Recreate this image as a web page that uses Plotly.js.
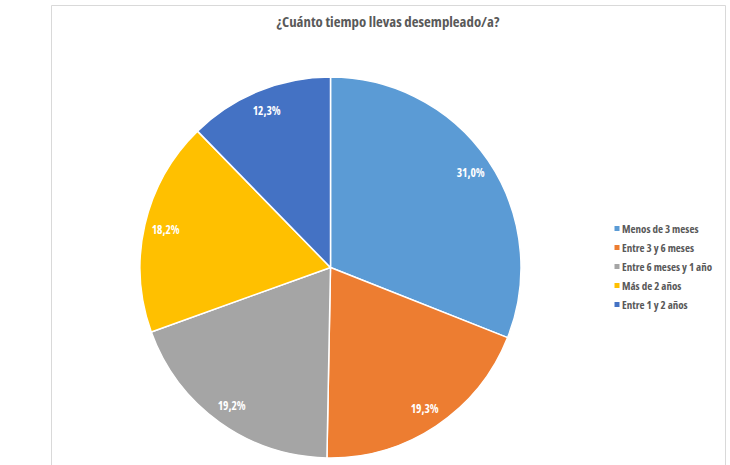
<!DOCTYPE html>
<html>
<head>
<meta charset="utf-8">
<script src="https://cdn.plot.ly/plotly-3.0.1.min.js"></script>
<style>
html,body{margin:0;padding:0;background:#fff;}
#chart{width:730px;height:465px;}
#chart text{font-stretch:75% !important;}
</style>
</head>
<body>
<div id="chart"></div>
<script>
const categories = ["Menos de 3 meses", "Entre 3 y 6 meses", "Entre 6 meses y 1 año", "Más de 2 años", "Entre 1 y 2 años"];
const percentages = [31.0, 19.3, 19.2, 18.2, 12.3];
const sliceColors = ["#5B9BD5", "#ED7D31", "#A5A5A5", "#FFC000", "#4472C4"];
const chartTitle = "¿Cuánto tiempo llevas desempleado/a?";

const FONT = "'Open Sans', Roboto, sans-serif";

const W = 730, H = 465;
const cx = 330.5, cy = 267.5, r = 190.5;
const labelRadius = 0.89 * r;

const trace = {
  type: "pie",
  labels: categories,
  values: percentages,
  sort: false,
  direction: "clockwise",
  rotation: 0,
  marker: { colors: sliceColors, line: { color: "#ffffff", width: 1.5 } },
  textinfo: "none",
  hoverinfo: "label+percent",
  domain: { x: [(cx - r) / W, (cx + r) / W], y: [1 - (cy + r) / H, 1 - (cy - r) / H] }
};

// data labels placed near the outer edge of each slice (Excel "best fit" look)
const total = percentages.reduce((a, b) => a + b, 0);
let cum = 0;
const labelAnnotations = percentages.map(function (v) {
  const mid = (cum + v / 2) / total * 2 * Math.PI;
  cum += v;
  const px = cx + labelRadius * Math.sin(mid);
  const py = cy - labelRadius * Math.cos(mid);
  return {
    xref: "paper", yref: "paper",
    x: px / W, y: 1 - py / H,
    xanchor: "center", yanchor: "middle",
    showarrow: false,
    text: (v / total * 100).toFixed(1).replace(".", ",") + "%",
    font: { family: FONT, size: 11.5, color: "#ffffff", weight: "bold" }
  };
});

const layout = {
  width: W, height: H,
  margin: { l: 0, r: 0, t: 0, b: 0, autoexpand: false },
  paper_bgcolor: "#ffffff",
  title: {
    text: chartTitle,
    x: 388 / W, xanchor: "center",
    y: 1 - 22 / H, yanchor: "middle",
    font: { family: FONT, size: 14.8, color: "#595959", weight: "bold" }
  },
  showlegend: true,
  legend: {
    x: 582 / W, xanchor: "left",
    y: 1 - 214 / H, yanchor: "top",
    font: { family: FONT, size: 11, color: "#595959", weight: "bold" },
    bgcolor: "rgba(0,0,0,0)",
    traceorder: "normal"
  },
  annotations: labelAnnotations,
  shapes: [{
    type: "rect", xref: "paper", yref: "paper",
    x0: 51.5 / W, x1: 725.5 / W, y0: -0.05, y1: 1 - 5.5 / H,
    line: { color: "#D9D9D9", width: 1 }, fillcolor: "rgba(0,0,0,0)", layer: "below"
  }]
};

Plotly.newPlot("chart", [trace], layout, { displayModeBar: false, staticPlot: true }).then(function (gd) {
  // smaller Excel-style legend markers, close to the text
  gd.querySelectorAll(".legendpoints path.legendpie").forEach(function (p) {
    p.setAttribute("d", "M2.5,2.5H-2.5V-2.5H2.5Z");
    p.setAttribute("transform", "translate(35,0)");
    p.style.strokeWidth = "0";
  });
});
</script>
</body>
</html>
